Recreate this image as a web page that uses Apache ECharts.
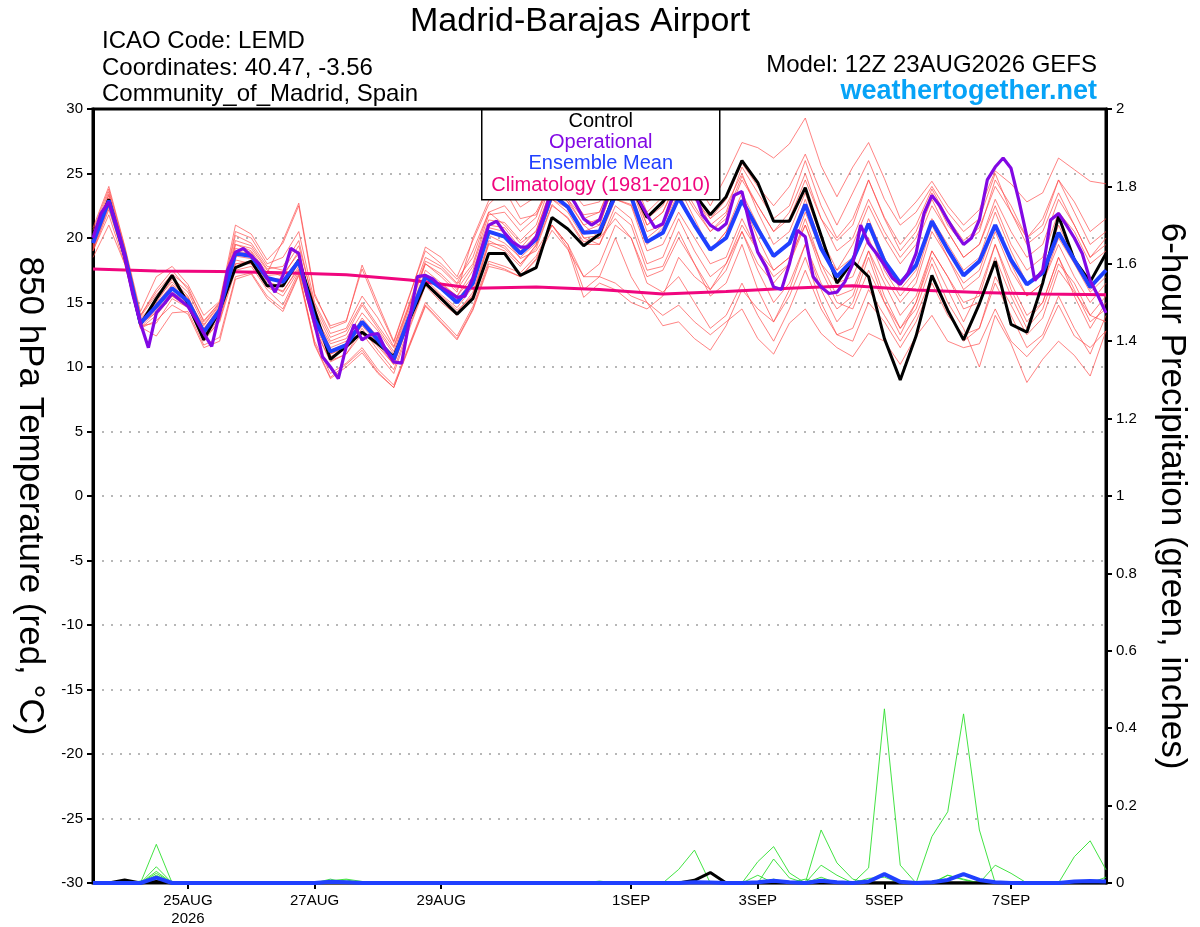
<!DOCTYPE html>
<html>
<head>
    <meta charset="UTF-8">
    <title>Madrid-Barajas Airport</title>
    <style>
        html, body { margin: 0; padding: 0; background: #fff; }
        #main { width: 1200px; height: 927px; }
    </style>
    <script src="https://cdn.jsdelivr.net/npm/echarts@6/dist/echarts.min.js"></script>
</head>
<body>
<div id="main"></div>
<script>
// x axis: forecast hours from 12Z 23AUG2026
var tickHours = [36, 84, 132, 204, 252, 300, 348];
var tickLabels = ['25AUG\n2026', '27AUG', '29AUG', '1SEP', '3SEP', '5SEP', '7SEP'];

// 850 hPa temperature, 6-hourly
var controlTemp = [19.9,23.0,18.6,13.3,15.3,17.1,14.9,12.1, 14.4,17.7,18.2,16.3,16.3,18.3,14.4,10.6,
    11.6,12.7,11.8,10.8,13.7,16.5,15.3,14.1, 15.3,18.8,18.8,17.1,17.7,21.6,20.7,19.4,
    20.3,23.6,24.0,21.6,22.8,24.4,23.4,21.8, 23.2,26.0,24.3,21.3,21.3,23.9,20.2,16.5,
    18.2,17.0,12.2,9.0,12.4,17.1,14.4,12.1, 14.9,18.2,13.3,12.7,16.5,21.7,18.3,16.6, 18.8];
var meanTemp = [19.6,22.9,18.7,13.4,14.7,16.1,15.1,12.7, 14.4,18.8,18.6,16.9,16.6,18.2,13.7,11.2,
    11.7,13.5,12.1,10.6,13.9,17.0,16.1,15.0, 16.5,20.5,20.1,18.8,19.9,23.4,22.4,20.4,
    20.5,23.3,23.2,19.7,20.4,23.1,21.0,19.1, 20.0,22.9,20.7,18.6,19.6,22.6,19.2,17.0,
    18.3,21.1,18.2,16.5,17.9,21.3,19.1,17.1, 18.2,21.0,18.3,16.4,17.3,20.4,18.3,16.2, 17.5];
// operational run, 3-hourly
var operTemp = [20.0,21.9,22.8,20.9,18.6,15.7,13.4,11.5, 14.2,14.9,15.7,15.2,14.7,13.7,12.6,11.6,
    14.2,17.5,18.9,19.2,18.6,18.0,16.9,15.8, 17.1,19.2,18.8,15.7,13.4,10.8,10.0,9.1,
    11.6,13.3,12.1,12.5,12.6,11.3,10.4,10.3, 13.7,17.0,17.1,16.8,16.2,15.8,15.4,15.5,
    16.9,19.0,21.0,21.3,20.4,19.7,19.3,19.3, 20.1,21.8,23.9,24.2,23.6,22.6,21.5,21.0,
    21.4,23.1,24.2,24.6,24.0,22.9,21.8,20.8, 21.1,22.8,24.0,24.5,23.6,21.8,21.0,20.6,
    21.1,23.3,23.6,21.0,18.9,17.8,16.2,16.0, 18.0,20.6,20.1,17.0,16.2,15.7,15.8,16.6,
    18.0,21.0,19.6,18.8,17.9,16.9,16.4,17.3, 18.8,21.9,23.3,22.5,21.4,20.4,19.5,20.0,
    21.4,24.5,25.5,26.2,25.4,22.9,20.1,16.7, 17.5,21.4,21.9,21.0,20.0,18.8,16.7,15.5, 14.2];
// 1981-2010 climatology, daily
var climTemp = [17.6,17.45,17.4,17.3,17.15,16.75,16.1,16.2,16.0,15.65,15.85,16.1,16.3,15.97,15.78,15.65,15.6];

// ensemble members, 6-hourly
var member01 = [20.3,23.6,19.2,14.0,15.8,17.2,16.2,13.5, 15.0,20.2,19.6,17.8,17.5,19.4,14.8,12.3, 12.8,15.0,13.2,11.5,14.8,18.2,17.6,16.4, 18.0,21.8,22.0,20.5,21.6,25.0,24.0,22.5, 22.8,25.2,25.0,22.0,23.2,25.8,24.5,22.5, 24.8,27.4,27.0,26.2,27.3,29.3,25.6,23.2, 25.5,27.4,24.6,21.5,22.8,24.4,22.5,21.0, 22.2,25.2,24.2,22.8,23.5,26.2,25.3,24.4, 24.2];
var member02 = [18.5,21.0,18.0,13.1,12.4,14.2,14.3,11.7, 12.3,17.0,17.3,15.5,14.5,17.2,12.0,9.5, 10.3,11.5,9.8,8.6,11.8,15.0,13.7,12.4, 14.7,18.2,17.8,17.3,18.6,21.0,19.5,16.0, 17.0,16.5,15.5,15.0,14.0,14.8,13.5,12.5, 13.5,14.5,12.2,11.0,13.4,14.5,12.6,11.5, 10.8,12.6,12.0,10.2,12.4,14.0,12.0,11.5, 11.8,14.5,12.0,10.8,12.2,14.8,12.4,11.5, 12.8];
var member03 = [20.8,24.0,19.4,14.3,17.0,17.8,16.4,14.0, 15.1,21.0,20.3,18.3,19.6,22.5,15.5,13.2, 13.6,17.6,14.6,11.9,15.5,19.3,18.5,17.0, 19.8,22.6,23.8,21.5,21.8,24.2,23.0,21.0, 20.0,21.5,20.0,16.5,15.8,17.0,15.0,13.0, 14.0,16.5,14.0,12.0,14.5,17.5,14.5,12.5, 12.0,15.0,13.5,11.5,13.5,16.5,14.0,12.5, 13.0,17.0,14.8,12.5,13.8,17.5,15.8,14.0, 15.5];
var member04 = [19.0,22.2,18.4,13.0,14.0,15.5,14.8,12.2, 13.8,18.0,18.2,16.4,15.8,17.8,13.0,10.4, 11.0,13.0,11.3,9.8,13.2,16.4,15.2,14.2, 15.8,19.8,19.2,18.0,19.2,22.5,21.6,19.7, 20.0,23.0,22.6,19.5,20.8,24.2,22.2,20.5, 21.8,24.8,22.5,20.5,22.0,25.0,21.5,19.8, 21.0,24.5,21.6,19.5,21.0,23.8,21.5,19.8, 20.8,24.0,22.0,20.0,21.5,24.5,22.8,20.5, 21.5];
var member05 = [19.9,23.3,19.0,13.8,15.0,16.8,15.5,12.9, 14.7,19.5,19.0,17.3,19.8,22.7,15.7,13.0, 13.5,17.9,14.9,12.0,15.6,19.0,18.0,16.8, 18.5,22.0,21.0,19.6,20.5,24.0,22.8,20.0, 19.5,22.0,21.0,17.5,17.8,20.5,18.0,16.0, 17.5,20.5,18.0,16.5,18.0,21.5,18.0,16.5, 17.0,20.0,17.0,15.0,16.5,20.5,18.5,16.5, 17.5,21.0,18.0,15.5,16.5,20.0,18.0,15.8, 17.0];
var member06 = [19.3,22.6,18.3,13.2,13.4,15.3,14.6,12.2, 13.5,17.5,17.8,16.0,14.8,17.4,11.8,9.2, 10.2,11.3,9.6,8.4,11.7,14.8,13.5,12.2, 14.5,18.0,17.6,17.0,18.4,21.0,19.5,17.0, 17.0,20.0,17.0,15.0,13.2,13.5,12.2,11.3, 13.2,16.0,14.5,13.5,16.0,19.5,16.5,14.5, 15.5,19.0,16.5,14.0,15.5,19.0,17.0,15.0, 15.5,19.5,16.5,14.0,15.0,18.5,16.0,13.5, 14.5];
var member07 = [20.0,23.0,19.0,13.5,15.2,16.6,15.3,13.0, 14.5,19.5,19.2,17.5,17.0,19.0,14.0,11.8, 12.2,14.2,12.8,11.0,14.5,18.0,17.0,15.8, 20.0,22.9,24.2,22.4,23.2,25.4,24.8,23.8, 23.4,25.4,25.4,22.8,23.5,25.5,23.8,21.5, 22.5,25.0,22.0,19.5,20.5,23.5,20.0,17.5, 18.5,21.0,17.5,15.5,17.0,21.0,18.5,16.0, 17.0,20.5,17.5,15.5,16.5,19.5,17.0,15.0, 16.5];
var member08 = [19.4,22.5,18.6,13.6,14.5,16.0,15.0,12.5, 14.2,18.6,18.4,16.6,16.2,18.0,13.5,11.0, 11.5,13.2,11.8,10.2,13.6,16.8,15.6,14.6, 16.2,20.2,19.6,18.5,19.6,23.0,22.0,20.0, 20.2,23.0,22.5,19.0,19.5,22.0,20.0,18.0, 18.5,21.5,19.0,17.0,18.0,21.0,18.0,15.5, 16.0,19.0,15.5,13.0,14.5,18.0,15.0,13.0, 10.0,14.0,11.8,8.8,10.6,12.0,10.9,9.3, 12.8];
var member09 = [19.8,23.0,18.8,13.3,14.4,15.8,14.9,12.4, 14.0,18.3,18.0,16.2,15.5,17.5,13.2,10.8, 11.4,12.8,11.6,10.2,13.5,16.6,15.5,14.4, 15.5,19.5,19.0,17.8,19.5,23.0,22.3,20.5, 21.0,24.5,24.0,21.0,22.0,24.8,23.0,21.5, 23.0,25.8,24.0,22.5,24.0,26.5,23.5,21.0, 23.5,26.0,23.0,21.0,22.0,24.0,22.0,20.5, 21.5,25.0,22.0,19.5,20.5,23.5,21.0,18.5, 19.5];
var member10 = [19.2,22.8,18.5,13.4,14.2,15.7,15.2,13.2, 14.8,19.0,18.8,17.0,16.4,18.3,13.5,11.0, 11.6,13.6,12.0,10.5,13.8,17.0,16.4,15.5, 17.0,20.4,20.0,18.4,19.0,21.0,19.2,15.4, 16.5,16.0,15.0,14.5,15.5,18.5,17.0,16.0, 18.0,21.0,19.0,17.5,18.5,22.0,19.0,17.5, 19.5,22.5,20.0,18.0,19.5,22.5,20.5,18.5, 19.5,22.5,19.5,17.5,18.5,22.0,20.5,18.0, 19.0];
var member11 = [19.0,21.8,18.0,13.0,13.6,14.8,14.1,11.5, 12.0,16.8,17.2,15.3,14.3,17.1,11.7,9.1, 10.0,11.1,9.5,8.4,11.6,14.7,13.4,12.1, 14.4,17.8,17.5,17.0,18.3,20.6,19.1,17.0, 18.0,21.0,20.0,17.0,17.5,20.0,18.0,15.5, 16.5,19.5,16.0,13.5,15.5,18.5,15.0,12.5, 13.0,16.0,14.0,12.0,14.0,17.0,14.5,12.0, 13.0,16.5,14.0,11.5,12.5,15.5,13.0,11.0, 14.0];
var member12 = [20.6,23.8,19.3,14.0,16.0,17.5,16.0,13.6, 15.0,20.5,20.0,18.0,18.5,20.5,15.0,12.6, 13.0,15.5,13.8,11.6,15.0,18.5,17.8,16.5, 19.0,22.0,22.5,21.0,22.0,24.5,23.5,21.5, 22.0,24.8,24.0,20.5,21.0,24.0,21.5,19.0, 20.5,23.5,21.0,18.5,19.5,23.0,19.5,17.0, 18.0,21.5,18.5,16.0,17.5,21.5,19.5,17.5, 18.5,22.0,19.0,16.5,17.5,21.0,18.5,16.0, 17.5];
var member13 = [19.5,22.7,18.9,13.5,14.8,16.3,15.0,12.6, 14.5,18.9,18.7,16.9,16.8,18.4,13.8,11.3, 11.8,13.8,12.3,10.8,14.0,17.2,16.2,15.2, 16.8,20.8,20.5,19.0,20.2,23.8,22.8,21.0, 21.5,24.0,23.5,20.0,21.0,23.5,21.0,19.0, 20.5,23.0,20.0,17.5,18.5,21.0,17.5,15.0, 14.5,17.5,15.0,13.0,15.0,19.0,17.0,14.5, 15.0,18.5,15.5,13.0,14.5,18.0,16.5,14.0, 13.5];
var member14 = [19.7,23.1,18.8,13.7,14.9,16.4,15.4,12.9, 14.6,19.2,18.9,17.1,17.2,18.8,14.1,11.5, 12.0,13.5,12.2,10.9,14.2,17.5,16.5,15.5, 17.5,21.0,20.8,19.2,20.6,24.0,23.0,21.5, 21.0,24.5,24.5,21.0,22.0,24.5,22.5,20.5, 21.5,24.5,22.5,20.5,21.5,24.5,21.5,19.0, 20.0,23.0,20.5,18.5,20.0,23.0,20.5,18.5, 19.5,23.0,20.5,18.5,19.5,23.0,21.0,18.5, 20.0];
var member15 = [19.1,22.4,18.2,13.1,14.3,15.5,14.6,12.0, 13.6,18.0,18.0,16.3,15.9,17.6,13.0,10.5, 11.0,12.6,11.0,9.5,13.0,16.3,15.0,14.0, 15.6,19.6,19.4,18.0,19.4,22.6,21.5,19.5, 19.5,22.5,21.5,18.0,18.5,21.5,19.0,17.0, 18.0,20.5,17.5,15.0,16.5,19.5,16.0,13.5, 15.0,18.5,15.0,12.5,15.0,18.5,16.0,13.5, 16.0,19.5,16.0,13.5,15.0,18.5,15.5,13.0, 15.0];
var member16 = [20.1,23.4,19.1,13.9,15.6,16.9,15.8,13.3, 14.9,19.8,19.4,17.6,17.8,19.8,14.5,12.0, 12.5,14.8,13.0,11.2,14.8,18.0,17.2,16.0, 17.8,21.4,21.2,19.8,21.0,24.5,23.5,21.8, 22.0,25.0,24.8,21.5,22.5,25.0,23.5,21.0, 22.0,25.5,23.5,21.5,22.5,26.0,22.5,20.0, 21.5,24.5,21.5,19.0,20.5,23.5,21.0,19.5, 20.5,24.5,22.5,20.0,21.0,24.5,22.0,19.5, 20.5];
var memberTemps = [member01, member02, member03, member04, member05, member06, member07, member08,
    member09, member10, member11, member12, member13, member14, member15, member16];

// 6-hour precipitation (inches), 6-hourly
var precip01 = [0,0,0,0,0.10,0,0,0,0,0,0,0,0, 0,0,0,0,0,0,0,0,0,0,0,0,0, 0,0,0,0,0,0,0,0,0,0,0,0.035,0.085, 0,0,0,0,0,0,0,0.137,0.052,0.01,0,0,0, 0,0,0,0,0,0,0,0,0,0,0,0,0];
var precip02 = [0,0,0,0,0.042,0,0,0,0,0,0,0,0, 0,0,0,0,0,0,0,0,0,0,0,0,0, 0,0,0,0,0,0,0,0,0,0,0,0,0, 0,0,0,0.055,0.094,0.026,0,0,0,0,0.039,0.45,0.046, 0,0,0,0,0,0,0,0,0,0,0,0,0];
var precip03 = [0,0,0,0,0.03,0,0,0,0,0,0,0,0, 0,0,0.01,0,0,0,0,0,0,0,0,0,0, 0,0,0,0,0,0,0,0,0,0,0,0,0, 0,0,0,0,0.062,0.013,0,0,0,0,0,0,0, 0,0.12,0.184,0.437,0.137,0,0,0,0,0,0,0,0];
var precip04 = [0,0,0,0,0.025,0,0,0,0,0,0,0,0, 0,0,0,0.008,0,0,0,0,0,0,0,0,0, 0,0,0,0,0,0,0,0,0,0,0,0,0, 0,0,0,0,0,0,0,0.046,0.02,0,0,0,0, 0,0,0,0,0,0.046,0.025,0,0,0,0.068,0.109,0.034];
var precip05 = [0,0,0,0,0.02,0,0,0,0,0,0,0,0, 0,0,0,0,0,0,0,0,0,0,0,0,0, 0,0,0,0,0,0,0.005,0,0,0,0,0,0, 0,0,0,0.02,0,0,0.01,0,0,0,0.012,0.015,0, 0,0,0.02,0.01,0,0,0,0,0,0,0,0,0.015];
var precip06 = [0,0,0,0.005,0.012,0,0,0,0,0,0,0,0, 0,0,0.006,0.01,0.004,0,0,0,0,0,0,0,0, 0,0,0,0,0,0,0,0,0,0,0,0,0, 0,0,0,0,0.01,0,0,0.015,0,0,0,0,0, 0,0,0.02,0.008,0,0,0,0,0,0,0,0,0];
var precipMembers = [precip01, precip02, precip03, precip04, precip05, precip06];
var controlPrecip = [0,0,0.008,0,0.004,0,0,0,0,0,0,0,0, 0,0,0,0,0,0,0,0,0,0,0,0,0, 0,0,0,0,0,0,0,0,0,0,0,0,0.007, 0.027,0,0,0,0,0,0,0,0,0,0,0,0, 0,0,0,0,0,0,0,0,0,0,0,0,0];
var meanPrecip = [0,0,0,0,0.014,0,0,0,0,0,0,0,0, 0,0,0.003,0.002,0,0,0,0,0,0,0,0,0, 0,0,0,0,0,0,0,0,0,0,0,0,0.002, 0.001,0,0,0.002,0.006,0.002,0,0.006,0.002,0,0.004,0.023,0.003, 0,0.002,0.008,0.023,0.008,0.002,0,0,0,0,0.004,0.005,0.004];

var font = "'Liberation Sans', Arial, Helvetica, sans-serif";

function toPairs(values, step) {
    return values.map(function (v, k) { return [k * step, v]; });
}

function lineSeries(name, values, step, color, width, z, axis) {
    return {
        type: 'line', name: name, yAxisIndex: axis || 0,
        data: toPairs(values, step),
        showSymbol: false, symbol: 'none', z: z,
        lineStyle: { color: color, width: width },
        emphasis: { disabled: true },
        animation: false
    };
}

var series = [];
memberTemps.forEach(function (m, k) {
    series.push(lineSeries('member' + (k + 1), m, 6, 'rgba(255,70,70,0.75)', 0.9, 1));
});
precipMembers.forEach(function (p, k) {
    series.push(lineSeries('precip' + (k + 1), p, 6, '#2ee02e', 0.9, 2, 1));
});
series.push(lineSeries('Climatology', climTemp, 24, '#f0067e', 3, 3));
series.push(lineSeries('Control', controlTemp, 6, '#000000', 3, 4));
series.push(lineSeries('Ensemble Mean', meanTemp, 6, '#2040ff', 4, 5));
series.push(lineSeries('Operational', operTemp, 3, '#8208e4', 3.2, 6));
series.push(lineSeries('Control precip', controlPrecip, 6, '#000000', 3, 7, 1));
series.push(lineSeries('Mean precip', meanPrecip, 6, '#2040ff', 4, 8, 1));

function header(text, pos, top, size, weight, color) {
    var t = { text: text, top: top, textStyle: { fontSize: size, fontWeight: weight || 'normal', color: color || '#000', fontFamily: font } };
    if (pos < 0) { t.right = -pos; } else { t.left = pos; }
    return t;
}

var legendFont = '20px ' + font;

var myChart = echarts.init(document.getElementById('main'));
var option = {
    backgroundColor: '#ffffff',
    animation: false,
    textStyle: { fontFamily: font },
    title: [
        header('Madrid-Barajas Airport', 405, 0, 34),
        header('ICAO Code: LEMD', 97, 24, 24),
        header('Coordinates: 40.47, -3.56', 97, 51, 24),
        header('Community_of_Madrid, Spain', 97, 77, 24),
        header('Model: 12Z 23AUG2026 GEFS', -98, 48, 24),
        header('weathertogether.net', -98, 73, 27, 'bold', '#07a3f7')
    ],
    grid: {
        left: 93, right: 94, top: 109, bottom: 44,
        outerBoundsMode: 'none', containLabel: false,
        show: true, borderColor: '#000', borderWidth: 3, backgroundColor: 'transparent'
    },
    xAxis: {
        type: 'value', min: 0, max: 384, interval: 12,
        axisLine: { show: false, onZero: false },
        splitLine: { show: false },
        axisTick: { show: true, customValues: tickHours, length: 6, lineStyle: { color: '#000', width: 2 } },
        axisLabel: {
            customValues: tickHours, color: '#000', fontSize: 15, margin: 9, lineHeight: 18, fontFamily: font,
            formatter: function (v) { var k = tickHours.indexOf(v); return k >= 0 ? tickLabels[k] : ''; }
        }
    },
    yAxis: [
        {
            type: 'value', min: -30, max: 30, interval: 5, position: 'left',
            name: '850 hPa Temperature (red, °C)', nameLocation: 'middle', nameRotate: -90, nameGap: 46,
            nameTextStyle: { fontSize: 35, color: '#000', fontFamily: font },
            axisLine: { show: true, lineStyle: { color: '#000', width: 3 } },
            axisTick: { show: true, length: 6, lineStyle: { color: '#000', width: 2 } },
            axisLabel: { color: '#000', fontSize: 15, margin: 10, fontFamily: font },
            splitLine: { show: true, showMinLine: false, showMaxLine: false, lineStyle: { color: '#a0a0a0', width: 1.5, type: [2, 7] } }
        },
        {
            type: 'value', min: 0, max: 2, interval: 0.2, position: 'right',
            name: '6-hour Precipitation (green, inches)', nameLocation: 'middle', nameRotate: -90, nameGap: 48,
            nameTextStyle: { fontSize: 35, color: '#000', fontFamily: font },
            axisLine: { show: true, lineStyle: { color: '#000', width: 3 } },
            axisTick: { show: true, length: 6, lineStyle: { color: '#000', width: 2 } },
            axisLabel: { color: '#000', fontSize: 15, margin: 10, fontFamily: font },
            splitLine: { show: false }
        }
    ],
    graphic: [{
        type: 'group', left: 481, top: 109, z: 100, zlevel: 1,
        children: [
            { type: 'rect', z: 100, shape: { x: 0, y: 0, width: 238, height: 90 }, style: { fill: '#fff', stroke: '#000', lineWidth: 1.5 } },
            { type: 'text', z: 101, x: 119, y: 12, style: { text: 'Control', fill: '#000', font: legendFont, textAlign: 'center', textVerticalAlign: 'middle' } },
            { type: 'text', z: 101, x: 119, y: 33, style: { text: 'Operational', fill: '#8208e4', font: legendFont, textAlign: 'center', textVerticalAlign: 'middle' } },
            { type: 'text', z: 101, x: 119, y: 54, style: { text: 'Ensemble Mean', fill: '#2040ff', font: legendFont, textAlign: 'center', textVerticalAlign: 'middle' } },
            { type: 'text', z: 101, x: 119, y: 76, style: { text: 'Climatology (1981-2010)', fill: '#f0067e', font: legendFont, textAlign: 'center', textVerticalAlign: 'middle' } }
        ]
    }],
    series: series
};
myChart.setOption(option);
</script>
</body>
</html>
